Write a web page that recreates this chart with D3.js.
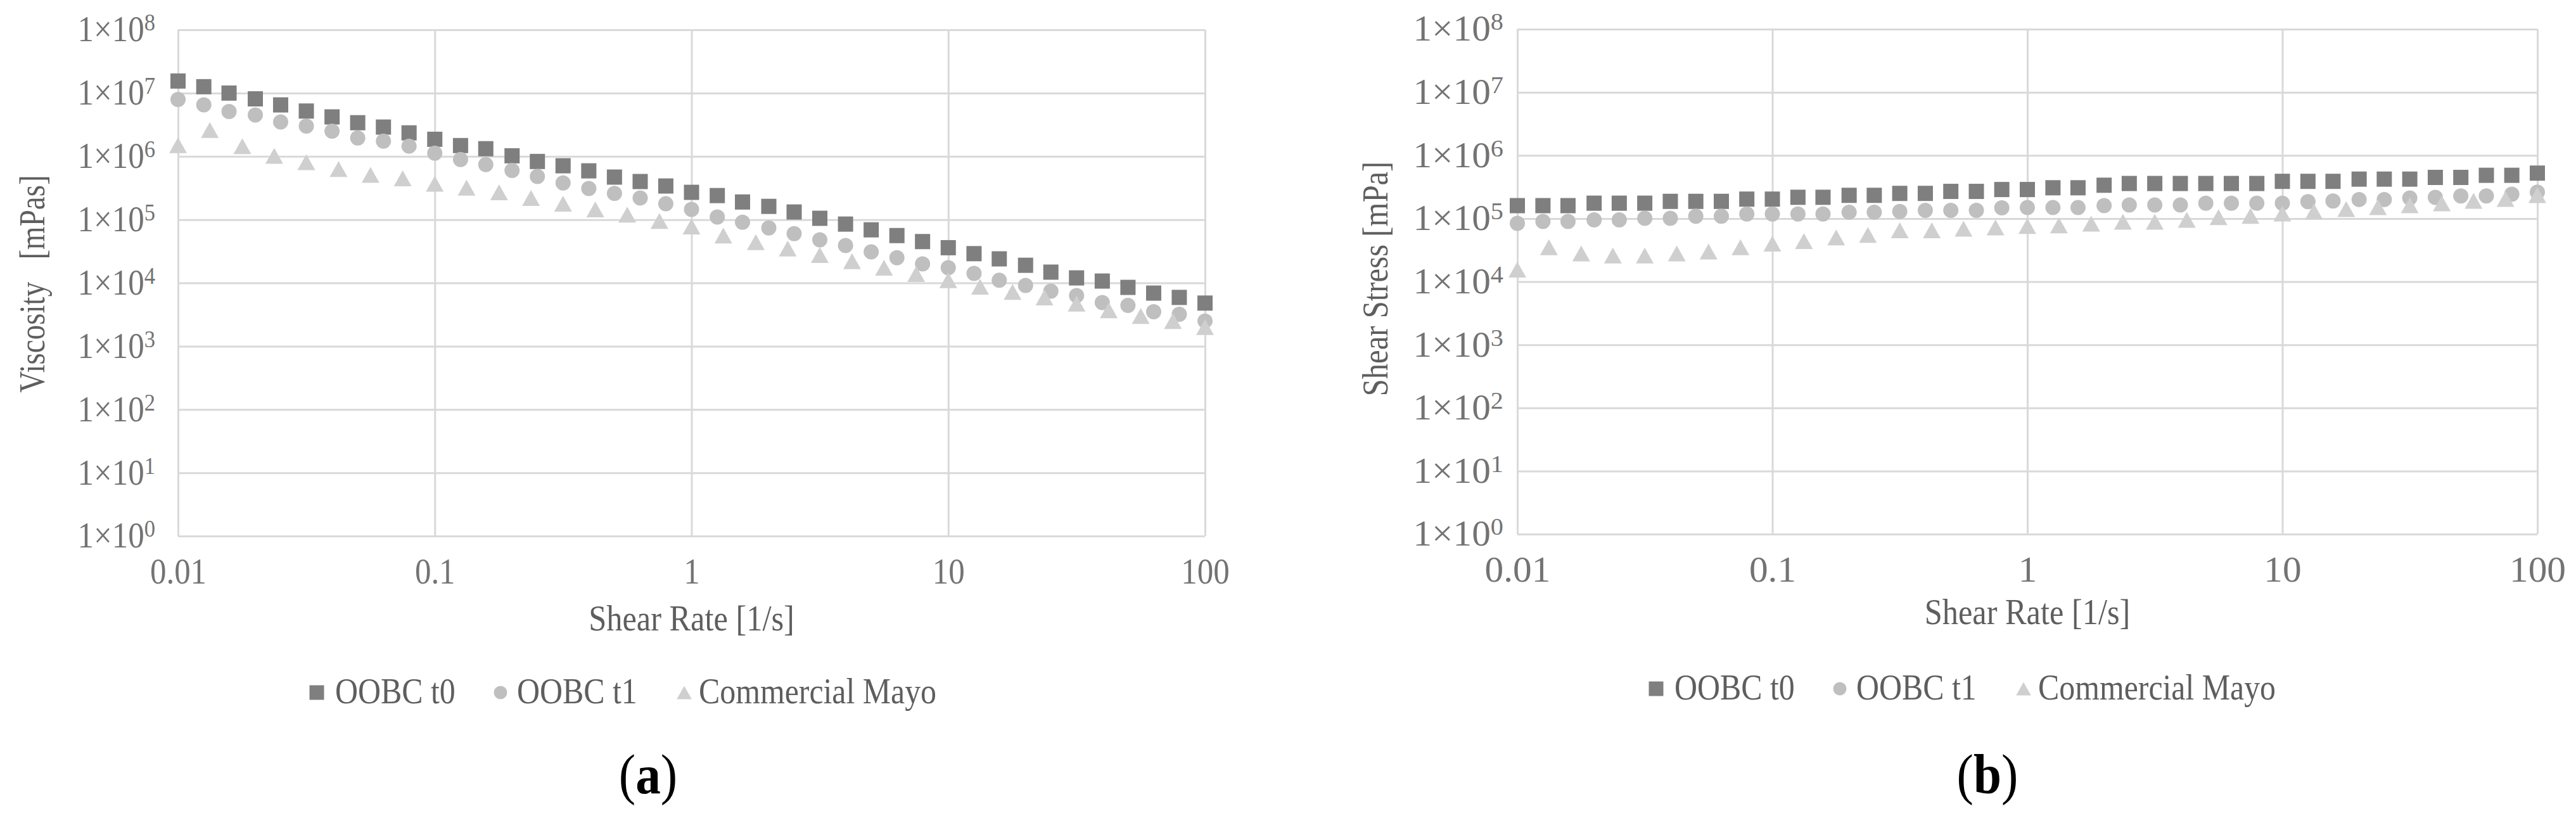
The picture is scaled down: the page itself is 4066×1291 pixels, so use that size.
<!DOCTYPE html>
<html>
<head>
<meta charset="utf-8">
<script src="https://cdn.jsdelivr.net/npm/d3@7"></script>
<style>
  html, body { margin: 0; padding: 0; background: #fff; }
  svg { display: block; }
</style>
</head>
<body>
<svg id="chart"></svg>
<script>
// shear rates of the instrument sweep (10 per decade for OOBC, 8 per decade for the mayo)
const shearRate = [0.01, 0.0126, 0.0158, 0.02, 0.0251, 0.0316, 0.0398, 0.0501, 0.0631, 0.0794,
  0.1, 0.126, 0.158, 0.2, 0.251, 0.316, 0.398, 0.501, 0.631, 0.794,
  1, 1.26, 1.58, 2, 2.51, 3.16, 3.98, 5.01, 6.31, 7.94,
  10, 12.6, 15.8, 20, 25.1, 31.6, 39.8, 50.1, 63.1, 79.4, 100];
const mayoRate = [0.01, 0.0133, 0.0178, 0.0237, 0.0316, 0.0422, 0.0562, 0.075,
  0.1, 0.133, 0.178, 0.237, 0.316, 0.422, 0.562, 0.75,
  1, 1.33, 1.78, 2.37, 3.16, 4.22, 5.62, 7.5,
  10, 13.3, 17.8, 23.7, 31.6, 42.2, 56.2, 75, 100];

// (a) viscosity [mPas]
const viscosityT0 = [1.55e7, 1.26e7, 1.0e7, 8.1e6, 6.5e6, 5.2e6, 4.2e6, 3.4e6, 2.9e6, 2.35e6,
  1.86e6, 1.48e6, 1.32e6, 1.02e6, 8.3e5, 7.1e5, 5.9e5, 4.7e5, 4.0e5, 3.4e5,
  2.7e5, 2.4e5, 1.9e5, 1.62e5, 1.32e5, 1.05e5, 8.5e4, 6.9e4, 5.6e4, 4.5e4,
  3.6e4, 2.9e4, 2.4e4, 1.9e4, 1.48e4, 1.2e4, 1.07e4, 8.5e3, 6.9e3, 5.9e3, 4.8e3];
const viscosityT1 = [7.9e6, 6.5e6, 5.1e6, 4.5e6, 3.5e6, 3.0e6, 2.5e6, 1.95e6, 1.74e6, 1.45e6,
  1.12e6, 8.9e5, 7.4e5, 6.0e5, 4.8e5, 3.8e5, 3.1e5, 2.6e5, 2.2e5, 1.78e5,
  1.45e5, 1.1e5, 9.1e4, 7.4e4, 6.0e4, 4.8e4, 3.9e4, 3.1e4, 2.5e4, 2.0e4,
  1.74e4, 1.41e4, 1.1e4, 9.1e3, 7.4e3, 6.3e3, 4.9e3, 4.4e3, 3.5e3, 3.2e3, 2.5e3];
const viscosityMayo = [1.5e6, 2.6e6, 1.45e6, 1.02e6, 8.1e5, 6.3e5, 5.1e5, 4.5e5,
  3.7e5, 3.2e5, 2.7e5, 2.2e5, 1.78e5, 1.45e5, 1.2e5, 9.5e4,
  7.8e4, 5.6e4, 4.4e4, 3.5e4, 2.75e4, 2.2e4, 1.74e4, 1.38e4,
  1.1e4, 8.7e3, 7.2e3, 5.9e3, 4.7e3, 3.7e3, 3.0e3, 2.5e3, 2.0e3];

// (b) shear stress [mPa]
const stressT0 = [1.6e5, 1.6e5, 1.6e5, 1.75e5, 1.75e5, 1.75e5, 1.87e5, 1.87e5, 1.87e5, 2.03e5,
  2.03e5, 2.17e5, 2.17e5, 2.33e5, 2.33e5, 2.5e5, 2.5e5, 2.69e5, 2.69e5, 2.88e5,
  2.88e5, 3.07e5, 3.07e5, 3.37e5, 3.59e5, 3.59e5, 3.59e5, 3.59e5, 3.59e5, 3.59e5,
  3.88e5, 3.88e5, 3.88e5, 4.21e5, 4.21e5, 4.21e5, 4.48e5, 4.48e5, 4.84e5, 4.84e5, 5.24e5];
const stressT1 = [8.4e4, 9.0e4, 9.0e4, 9.5e4, 9.5e4, 1.01e5, 1.01e5, 1.09e5, 1.09e5, 1.18e5,
  1.18e5, 1.18e5, 1.18e5, 1.26e5, 1.26e5, 1.29e5, 1.35e5, 1.35e5, 1.35e5, 1.48e5,
  1.49e5, 1.49e5, 1.49e5, 1.6e5, 1.64e5, 1.64e5, 1.64e5, 1.75e5, 1.75e5, 1.75e5,
  1.75e5, 1.85e5, 1.89e5, 2.0e5, 2.0e5, 2.11e5, 2.16e5, 2.28e5, 2.28e5, 2.43e5, 2.62e5];
const stressMayo = [1.55e4, 3.5e4, 2.8e4, 2.6e4, 2.6e4, 2.8e4, 3.0e4, 3.5e4,
  4.0e4, 4.4e4, 5.0e4, 5.5e4, 6.5e4, 6.5e4, 6.9e4, 7.2e4,
  7.6e4, 7.8e4, 8.3e4, 8.9e4, 8.9e4, 9.5e4, 1.05e5, 1.1e5,
  1.2e5, 1.29e5, 1.41e5, 1.51e5, 1.62e5, 1.74e5, 1.9e5, 2.04e5, 2.34e5];

const seriesNames = ["OOBC t0", "OOBC t1", "Commercial Mayo"];
const xTickValues = [0.01, 0.1, 1, 10, 100];
const xTickLabels = ["0.01", "0.1", "1", "10", "100"];
const yExponents = [0, 1, 2, 3, 4, 5, 6, 7, 8];


const width = 4066, height = 1291;
const font = "'Liberation Serif', 'Times New Roman', serif";
const tickColor = "#737373", titleColor = "#5e5e5e", gridColor = "#d9d9d9";
const markerColors = ["#7f7f7f", "#bfbfbf", "#cfcfcf"];
const markerShapes = ["square", "circle", "triangle"];

const svg = d3.select("#chart")
  .attr("width", width)
  .attr("height", height)
  .attr("font-family", font);

svg.append("rect").attr("width", width).attr("height", height).attr("fill", "#fff");

const panels = [
  {
    left: 281, right: 1902, top: 47, bottom: 846,
    tickSqueeze: 0.91, tickGap: 36,
    yTitle: "Viscosity\u00a0\u00a0\u00a0[mPas]", yTitleX: 70, yTitleY: 448, yTitleSqueeze: 0.84,
    xTitleY: 995, legendY: 1110, caption: "a",
    series: [
      {x: shearRate, y: viscosityT0},
      {x: shearRate, y: viscosityT1},
      {x: mayoRate, y: viscosityMayo},
    ],
  },
  {
    left: 2395, right: 4005, top: 46, bottom: 843,
    tickSqueeze: 1.06, tickGap: 22,
    yTitle: "Shear Stress [mPa]", yTitleX: 2190, yTitleY: 440, yTitleSqueeze: 0.87,
    xTitleY: 985, legendY: 1104, caption: "b",
    series: [
      {x: shearRate, y: stressT0},
      {x: shearRate, y: stressT1},
      {x: mayoRate, y: stressMayo},
    ],
  },
];


// path for one marker, centred on 0,0
function markerPath(shape, size) {
  if (shape === "square") return d3.symbol(d3.symbolSquare, size * size)();
  if (shape === "circle") return d3.symbol(d3.symbolCircle, Math.PI * size * size / 4)();
  const w = size * 1.12, h = size;
  return `M0,${-h / 2}L${w / 2},${h / 2}L${-w / 2},${h / 2}Z`;
}

// the original figure uses a horizontally condensed serif; squeeze glyphs around their anchor
function squeeze(selection, k) {
  selection.each(function() {
    const t = d3.select(this);
    const x = +t.attr("x") || 0;
    t.attr("x", x / k).attr("transform", `scale(${k},1)`);
  });
}

function label(parent, x, y, text, {size = 56, anchor = "middle", k = 0.9, rotate = 0, color = titleColor} = {}) {
  return parent.append("g")
    .attr("transform", `translate(${x},${y}) rotate(${rotate}) scale(${k},1)`)
    .append("text")
    .attr("text-anchor", anchor)
    .attr("font-size", size)
    .attr("fill", color)
    .text(text);
}


function drawPanel(p) {
  const g = svg.append("g");

  const x = d3.scaleLog().domain([0.01, 100]).range([p.left, p.right]);
  const y = d3.scaleLog().domain([1, 1e8]).range([p.bottom, p.top]);
  const yTickValues = yExponents.map(e => 10 ** e);

  // grid
  const xgrid = g.append("g")
    .attr("transform", `translate(0,${p.bottom})`)
    .call(d3.axisBottom(x).tickValues(xTickValues).tickSize(-(p.bottom - p.top)).tickFormat(""));
  xgrid.select(".domain").remove();

  const ygrid = g.append("g")
    .attr("transform", `translate(${p.left},0)`)
    .call(d3.axisLeft(y).tickValues(yTickValues).tickSize(-(p.right - p.left)).tickFormat(""));
  ygrid.select(".domain").remove();

  g.selectAll(".tick line")
    .attr("stroke", gridColor)
    .attr("stroke-width", 3);

  // tick labels
  const xaxis = g.append("g")
    .attr("transform", `translate(0,${p.bottom})`)
    .call(d3.axisBottom(x).tickValues(xTickValues).tickSize(0).tickPadding(0)
      .tickFormat((d, i) => xTickLabels[i]));
  xaxis.select(".domain").remove();
  xaxis.attr("font-family", null).attr("font-size", null);
  xaxis.selectAll(".tick text")
    .attr("y", 75)
    .attr("dy", null)
    .attr("font-size", 56)
    .attr("fill", tickColor)
    .call(squeeze, p.tickSqueeze);

  const yaxis = g.append("g")
    .attr("transform", `translate(${p.left},0)`)
    .call(d3.axisLeft(y).tickValues(yTickValues).tickSize(0).tickPadding(p.tickGap).tickFormat(""));
  yaxis.select(".domain").remove();
  yaxis.attr("font-family", null).attr("font-size", null);
  yaxis.selectAll(".tick text")
    .attr("font-size", 56)
    .attr("fill", tickColor)
    .each(function(d) {
      const t = d3.select(this);
      t.append("tspan").text("1\u00d710");
      t.append("tspan")
        .attr("dy", -17)
        .attr("font-size", 38)
        .text(Math.round(Math.log10(d)));
    })
    .call(squeeze, p.tickSqueeze);

  // data
  p.series.forEach((s, i) => {
    g.append("g")
      .selectAll("path")
      .data(s.y.map((v, j) => ({x: s.x[j], y: v})))
      .join("path")
      .attr("transform", d => `translate(${x(d.x)},${y(d.y)})`)
      .attr("d", markerPath(markerShapes[i], i === 2 ? 25 : 24))
      .attr("fill", markerColors[i]);
  });

  // axis titles
  label(g, p.yTitleX, p.yTitleY, p.yTitle, {rotate: -90, k: p.yTitleSqueeze});
  label(g, (p.left + p.right) / 2, p.xTitleY, "Shear Rate [1/s]", {k: 0.9});

  // legend
  const legendMarkerX = [219, 509, 799];
  const legendTextX = [248, 535, 822];
  const legend = g.append("g");
  seriesNames.forEach((name, i) => {
    legend.append("path")
      .attr("transform", `translate(${p.left + legendMarkerX[i]},${p.legendY - 17})`)
      .attr("d", markerPath(markerShapes[i], i === 0 ? 23 : 21))
      .attr("fill", markerColors[i]);
    label(legend, p.left + legendTextX[i], p.legendY, name, {anchor: "start", k: 0.89});
  });

  // panel caption: (a) / (b) with bold letter
  const cap = label(g, p.left + 742, 1252, "", {size: 88, k: 0.9, color: "#000"});
  cap.append("tspan").text("(");
  cap.append("tspan").attr("font-weight", "bold").text(p.caption);
  cap.append("tspan").text(")");
}

panels.forEach(drawPanel);
</script>
</body>
</html>
